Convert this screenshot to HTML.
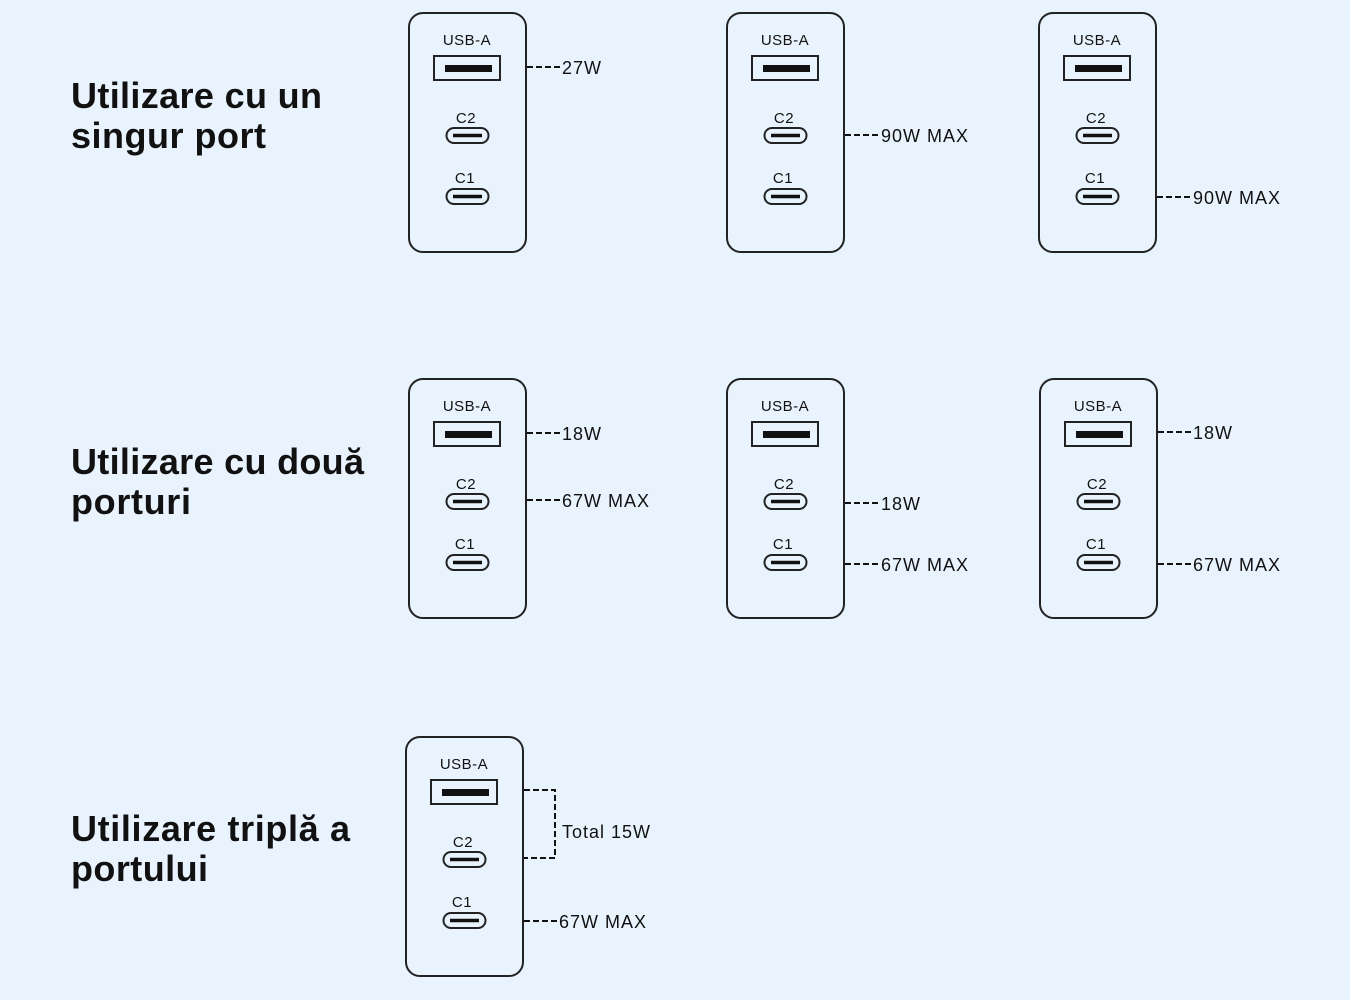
<!DOCTYPE html>
<html><head><meta charset="utf-8"><style>
html,body{margin:0;padding:0;background:#e8f3fe;}
svg{display:block;}
text{font-family:"Liberation Sans",sans-serif;fill:#111;}
.h{font-weight:bold;font-size:36px;}
.l{font-size:15px;letter-spacing:0.5px;}
.w{font-size:18px;letter-spacing:1px;}
.d{stroke:#111;stroke-width:2;stroke-dasharray:6,3;fill:none;}
</style></head><body>
<svg width="1350" height="1000" viewBox="0 0 1350 1000" xmlns="http://www.w3.org/2000/svg">
<defs>
<g id="ch">
<rect x="0" y="0" width="117" height="239" rx="14" fill="none" stroke="#222" stroke-width="2"/>
<text class="l" x="58" y="32" text-anchor="middle">USB-A</text>
<rect x="25" y="43" width="66" height="24" fill="none" stroke="#222" stroke-width="2"/>
<rect x="36" y="52" width="47" height="7" fill="#111"/>
<text class="l" x="57" y="110" text-anchor="middle">C2</text>
<rect x="37.5" y="115" width="42" height="15" rx="7.5" fill="none" stroke="#222" stroke-width="2"/>
<line x1="44" y1="122.5" x2="73" y2="122.5" stroke="#111" stroke-width="3.5"/>
<text class="l" x="56" y="170" text-anchor="middle">C1</text>
<rect x="37.5" y="176" width="42" height="15" rx="7.5" fill="none" stroke="#222" stroke-width="2"/>
<line x1="44" y1="183.5" x2="73" y2="183.5" stroke="#111" stroke-width="3.5"/>
</g>
</defs>
<text class="h" x="71" y="108" textLength="251">Utilizare cu un</text>
<text class="h" x="71" y="148" textLength="195">singur port</text>
<text class="h" x="71" y="474" textLength="293">Utilizare cu două</text>
<text class="h" x="71" y="514" textLength="120">porturi</text>
<text class="h" x="71" y="841" textLength="279">Utilizare triplă a</text>
<text class="h" x="71" y="881" textLength="137">portului</text>

<use href="#ch" x="409" y="13"/>
<line class="d" x1="527" y1="67" x2="560" y2="67"/><text class="w" x="562" y="74">27W</text>
<use href="#ch" x="727" y="13"/>
<line class="d" x1="845" y1="135" x2="879" y2="135"/><text class="w" x="881" y="142">90W MAX</text>
<use href="#ch" x="1039" y="13"/>
<line class="d" x1="1157" y1="197" x2="1191" y2="197"/><text class="w" x="1193" y="204">90W MAX</text>

<use href="#ch" x="409" y="379"/>
<line class="d" x1="527" y1="433" x2="560" y2="433"/><text class="w" x="562" y="440">18W</text>
<line class="d" x1="527" y1="500" x2="560" y2="500"/><text class="w" x="562" y="507">67W MAX</text>
<use href="#ch" x="727" y="379"/>
<line class="d" x1="845" y1="503" x2="879" y2="503"/><text class="w" x="881" y="510">18W</text>
<line class="d" x1="845" y1="564" x2="879" y2="564"/><text class="w" x="881" y="571">67W MAX</text>
<use href="#ch" x="1040" y="379"/>
<line class="d" x1="1158" y1="432" x2="1191" y2="432"/><text class="w" x="1193" y="439">18W</text>
<line class="d" x1="1158" y1="564" x2="1191" y2="564"/><text class="w" x="1193" y="571">67W MAX</text>

<use href="#ch" x="406" y="737"/>
<polyline class="d" points="524,790 555,790 555,858 524,858"/>
<text class="w" x="562" y="838">Total 15W</text>
<line class="d" x1="524" y1="921" x2="557" y2="921"/><text class="w" x="559" y="928">67W MAX</text>
</svg>
</body></html>
